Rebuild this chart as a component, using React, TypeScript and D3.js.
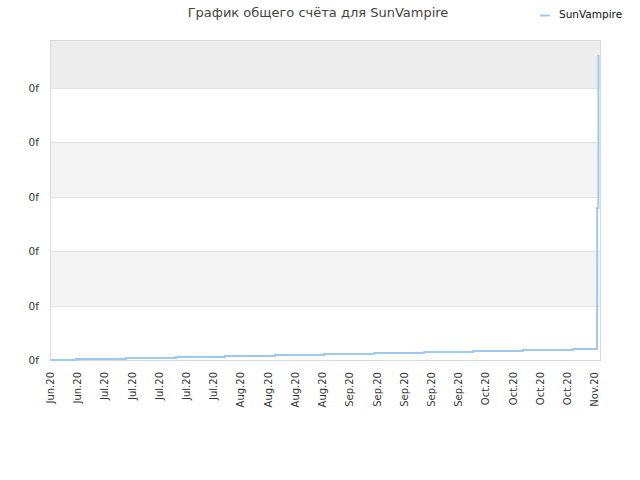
import * as d3 from "d3";

const title = "График общего счёта для SunVampire";
const seriesName = "SunVampire";

// score points (dates in 2020)
const pointDates = [
  "2020-06-17T00:00", "2020-06-23T17:00", "2020-07-06T14:00", "2020-07-19T10:00",
  "2020-08-01T01:00", "2020-08-13T21:00", "2020-08-26T13:00", "2020-09-08T10:00",
  "2020-09-21T06:00", "2020-10-03T21:00", "2020-10-16T16:00", "2020-10-29T13:00",
  "2020-11-04T18:00", "2020-11-04T18:10", "2020-11-04T18:20", "2020-11-04T18:30",
  "2020-11-04T18:40", "2020-11-05T02:00", "2020-11-05T02:10", "2020-11-05T02:20",
];
const pointValues = [
  0, 18, 36, 55, 73, 91, 110, 128,
  146, 164, 184, 203,
  809, 1176, 1801, 2408,
  2794, 3199, 3805, 5607,
];

const xStart = new Date("2020-06-17T00:00");
const xEnd = new Date("2020-11-05T12:00");
const yMax = 5882;
const yTicks = [0, 1000, 2000, 3000, 4000, 5000];
const yTickLabels = ["0f", "0f", "0f", "0f", "0f", "0f"];

const W = 640;
const H = 480;
const m = { top: 40, right: 40, bottom: 120, left: 50 };

export default function App() {
  const data = pointDates.map((d, i) => ({ date: new Date(d), value: pointValues[i] }));

  const x = d3.scaleTime().domain([xStart, xEnd]).range([m.left, W - m.right]);
  const y = d3.scaleLinear().domain([0, yMax]).range([H - m.bottom, m.top]);

  const xTicks = x.ticks(d3.timeWednesday.every(1)!);
  const fmt = d3.timeFormat("%b.%y");

  const line = d3
    .line<{ date: Date; value: number }>()
    .x((d) => x(d.date))
    .y((d) => y(d.value))
    .curve(d3.curveStepAfter);

  // bands between ticks, top one up to the frame
  const bands = yTicks.map((t, i) => ({
    lo: t,
    hi: i < yTicks.length - 1 ? yTicks[i + 1] : yMax,
    i,
  }));

  return (
    <svg
      width={W}
      height={H}
      style={{ position: "absolute", left: 0, top: 0, fontFamily: "DejaVu Sans, Verdana, sans-serif" }}
    >
      <rect width={W} height={H} fill="#fff" />
      <text x={318} y={17} textAnchor="middle" fontSize={13} fill="#444">
        {title}
      </text>

      {/* legend */}
      <line x1={540} x2={550} y1={15.5} y2={15.5} stroke="#9dc9f2" strokeWidth={2} />
      <text x={559} y={18} fontSize={10.5} fill="#111">
        {seriesName}
      </text>

      {/* bands */}
      {bands.map((b) =>
        b.i % 2 === 1 ? (
          <rect
            key={b.i}
            x={m.left}
            width={W - m.right - m.left}
            y={y(b.hi)}
            height={y(b.lo) - y(b.hi)}
            fill={b.i === bands.length - 1 ? "#ededed" : "#f3f3f3"}
          />
        ) : null
      )}

      {/* grid lines */}
      {yTicks.slice(1).map((t) => (
        <line
          key={t}
          x1={m.left}
          x2={W - m.right}
          y1={Math.round(y(t)) + 0.5}
          y2={Math.round(y(t)) + 0.5}
          stroke="#e2e2e2"
        />
      ))}

      {/* frame */}
      <rect
        x={m.left + 0.5}
        y={m.top + 0.5}
        width={W - m.right - m.left}
        height={H - m.bottom - m.top}
        fill="none"
        stroke="#d9d9d9"
      />

      {/* y labels */}
      {yTicks.map((t, i) => (
        <text key={t} x={m.left - 11} y={y(t) + 4} textAnchor="end" fontSize={10.5} fill="#333">
          {yTickLabels[i]}
        </text>
      ))}

      {/* x labels */}
      {xTicks.map((t, i) => (
        <text
          key={i}
          transform={`translate(${x(t) + 4},${H - m.bottom + 12}) rotate(-90)`}
          textAnchor="end"
          fontSize={10}
          fill="#333"
        >
          {fmt(t)}
        </text>
      ))}

      <path d={line(data) ?? ""} fill="none" stroke="#9dc9f2" strokeWidth={2} />
    </svg>
  );
}
